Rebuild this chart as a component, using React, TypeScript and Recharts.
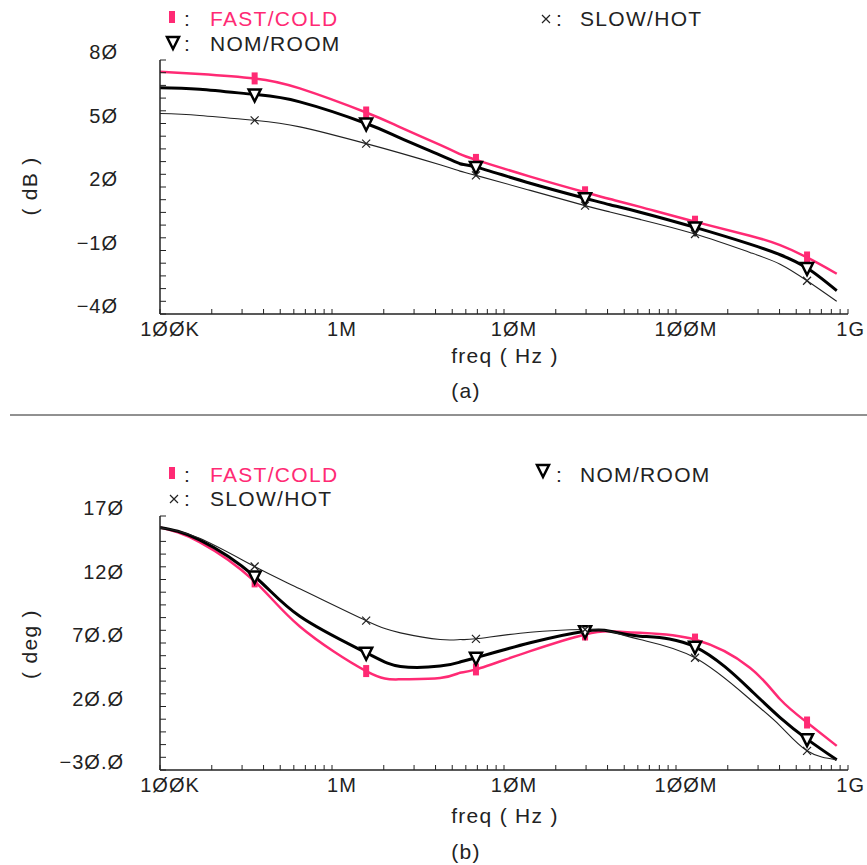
import React from "react";
import { LineChart, Line, XAxis, YAxis } from "recharts";

// frequency points (Hz), shared by both plots
const freqs = [1e5, 1.7e5, 3.55e5, 6.5e5, 1.58e6, 2.5e6, 4.25e6, 5.55e6, 6.87e6, 1.42e7, 2.96e7, 4.13e7, 6.18e7, 1.29e8, 2.69e8, 4.03e8, 5.78e8, 8.6e8];

// (a) gain, dB
const fastGain = [74.5, 73.4, 71.3, 66.6, 55.2, 48.2, 39.9, 35.5, 32.8, 24.9, 17.5, 14.3, 10.6, 3.6, -3.0, -7.5, -13.3, -21];
const nomGain = [66.9, 66.2, 63.7, 60.2, 50.0, 43.1, 35.1, 31.0, 29.4, 21.8, 14.7, 11.6, 8.1, 0.9, -7, -12, -18.3, -29];
const slowGain = [54.7, 53.8, 51.5, 48.4, 40.5, 36, 30.5, 27.5, 25.5, 18.4, 11.2, 8.2, 4.7, -2.2, -10.9, -16.5, -24.3, -34];

// (b) phase, deg
const fastPhase = [161, 149.4, 118.5, 83, 47.9, 41.4, 42.4, 46.6, 49.2, 63.6, 76.7, 79.3, 78, 72.7, 50.5, 25.7, 7.4, -11];
const nomPhase = [161, 151.2, 122.4, 91, 62.3, 51.5, 51.8, 55, 58.4, 70.2, 79.3, 79.3, 75.4, 67, 33.5, 11.3, -5.7, -22];
const slowPhase = [161, 152.5, 130.2, 112.7, 87.6, 78, 72.7, 72.7, 73.3, 78.5, 80.6, 79.3, 72.7, 58.4, 25.7, 4.8, -14.9, -22];

// symbols only sit on these points
const markerFreqs = [3.55e5, 1.58e6, 6.87e6, 2.96e7, 1.29e8, 5.78e8];

const decadeTicks = [1e5, 1e6, 1e7, 1e8, 1e9];
const decadeLabels = ["1ØØK", "1M", "1ØM", "1ØØM", "1G"];
const gainTicks = [80, 50, 20, -10, -40];
const gainLabels = ["8Ø", "5Ø", "2Ø", "−1Ø", "−4Ø"];
const phaseTicks = [170, 120, 70, 20, -30];
const phaseLabels = ["17Ø", "12Ø", "7Ø.Ø", "2Ø.Ø", "−3Ø.Ø"];

const PINK = "#ff2a74";
const INK = "#222";
const FONT = "'Liberation Sans', Arial, sans-serif";
const W = 867;

// log minor ticks 1..9 per decade
const xMinor: number[] = [];
for (let d = 5; d < 9; d++) for (let m = 1; m < 10; m++) xMinor.push(m * Math.pow(10, d));
xMinor.push(1e9);

const yMinor = (lo: number, hi: number, step: number) => {
  const out: number[] = [];
  for (let v = lo; v <= hi; v += step) out.push(v);
  return out;
};

const rows = (a: number[], b: number[], c: number[]) =>
  freqs.map((f, i) => ({ freq: f, fast: a[i], nom: b[i], slow: c[i] }));

const gainRows = rows(fastGain, nomGain, slowGain);
const phaseRows = rows(fastPhase, nomPhase, slowPhase);

const isMark = (p: any) => p && markerFreqs.includes(p.freq);

const FastDot = (p: any) =>
  isMark(p.payload) ? (
    <rect key={p.index} x={p.cx - 3} y={p.cy - 6} width={6} height={12} fill={PINK} />
  ) : (
    <g key={p.index} />
  );

const NomDot = (p: any) =>
  isMark(p.payload) ? (
    <path key={p.index} d={`M${p.cx - 6},${p.cy - 5} L${p.cx + 6},${p.cy - 5} L${p.cx},${p.cy + 7} Z`} fill="#fff" stroke="#000" strokeWidth={2.5} />
  ) : (
    <g key={p.index} />
  );

const SlowDot = (p: any) =>
  isMark(p.payload) ? (
    <path key={p.index} d={`M${p.cx - 4},${p.cy - 4} L${p.cx + 4},${p.cy + 4} M${p.cx - 4},${p.cy + 4} L${p.cx + 4},${p.cy - 4}`} stroke={INK} strokeWidth={1.2} />
  ) : (
    <g key={p.index} />
  );

const makeYTick = (vals: number[], labels: string[], right: number) => (p: any) => {
  const i = vals.indexOf(p.payload.value);
  return (
    <g>
      <line x1={p.x} x2={p.x + 6} y1={p.y} y2={p.y} stroke={INK} />
      {i >= 0 && (
        <text x={p.x - right} y={p.y - 8} textAnchor="end" dominantBaseline="central" fontFamily={FONT} fontSize={20} letterSpacing={1} fill={INK}>
          {labels[i]}
        </text>
      )}
    </g>
  );
};

const XTick = (p: any) => {
  const i = decadeTicks.indexOf(p.payload.value);
  const last = i === decadeTicks.length - 1;
  return (
    <g>
      <line x1={p.x} x2={p.x} y1={p.y} y2={p.y - 5} stroke={INK} />
      {i >= 0 && (
        <text x={last ? p.x + 17 : p.x + 10} y={p.y + 15} textAnchor={last ? "end" : "middle"} dominantBaseline="central" fontFamily={FONT} fontSize={20} letterSpacing={1} fill={INK}>
          {decadeLabels[i]}
        </text>
      )}
    </g>
  );
};

function Plot({ data, domain, minor, tick, top, height, plotTop }: any) {
  return (
    <div style={{ position: "absolute", left: 0, top }}>
      <LineChart width={W} height={height} data={data} margin={{ top: plotTop, right: 19, left: 0, bottom: height - plotTop - 254 - 30 }}>
        <XAxis dataKey="freq" type="number" scale="log" domain={[1e5, 1e9]} ticks={xMinor} interval={0} tickSize={0} tickMargin={0} tickLine={false} tick={XTick} height={30} axisLine={{ stroke: INK, strokeWidth: 1.5 }} allowDataOverflow />
        <YAxis type="number" domain={domain} ticks={minor} interval={0} tickSize={0} tickMargin={0} tickLine={false} tick={tick} width={160} axisLine={{ stroke: INK, strokeWidth: 1.5 }} allowDataOverflow />
        <Line type="natural" dataKey="fast" stroke={PINK} strokeWidth={2.5} dot={FastDot} isAnimationActive={false} />
        <Line type="natural" dataKey="nom" stroke="#000" strokeWidth={3} dot={NomDot} isAnimationActive={false} />
        <Line type="natural" dataKey="slow" stroke={INK} strokeWidth={1.1} dot={SlowDot} isAnimationActive={false} />
      </LineChart>
    </div>
  );
}

const T = (props: any) => <text fontFamily={FONT} fontSize={21} letterSpacing={1.3} fill={INK} {...props} />;

const Tri = ({ x, y }: any) => <path d={`M${x - 6},${y - 5} L${x + 6},${y - 5} L${x},${y + 7} Z`} fill="#fff" stroke="#000" strokeWidth={2.5} />;
const Bar_ = ({ x, y }: any) => <rect x={x - 3} y={y - 6} width={6} height={12} fill={PINK} />;
const Cross = ({ x, y }: any) => <path d={`M${x - 4},${y - 4} L${x + 4},${y + 4} M${x - 4},${y + 4} L${x + 4},${y - 4}`} stroke={INK} strokeWidth={1.2} />;

export default function App() {
  return (
    <div style={{ position: "absolute", left: 0, top: 0, width: W, height: 865, background: "#fff" }}>
      <Plot data={gainRows} domain={[-40, 80]} minor={yMinor(-40, 80, 6)} tick={makeYTick(gainTicks, gainLabels, 42)} top={0} height={420} plotTop={60} />
      <Plot data={phaseRows} domain={[-30, 170]} minor={yMinor(-30, 170, 10)} tick={makeYTick(phaseTicks, phaseLabels, 36)} top={440} height={425} plotTop={76} />
      <svg width={W} height={865} style={{ position: "absolute", left: 0, top: 0, pointerEvents: "none" }}>
        {/* (a) legend */}
        <Bar_ x={172} y={17} />
        <T x={184} y={26}>:</T>
        <T x={210} y={26} fill={PINK}>FAST/COLD</T>
        <Cross x={546} y={19} />
        <T x={556} y={26}>:</T>
        <T x={580} y={26}>SLOW/HOT</T>
        <Tri x={173} y={42} />
        <T x={184} y={51}>:</T>
        <T x={210} y={51}>NOM/ROOM</T>
        <T x={29} y={186} textAnchor="middle" dominantBaseline="central" transform="rotate(-90 29 186)">( dB )</T>
        <T x={505} y={355} textAnchor="middle" dominantBaseline="central">freq ( Hz )</T>
        <T x={466} y={390} textAnchor="middle" dominantBaseline="central">(a)</T>
        <line x1={10} x2={W} y1={415} y2={415} stroke={INK} strokeWidth={1} />
        {/* (b) legend */}
        <Bar_ x={172} y={473} />
        <T x={184} y={482}>:</T>
        <T x={210} y={482} fill={PINK}>FAST/COLD</T>
        <Tri x={543} y={470} />
        <T x={556} y={482}>:</T>
        <T x={580} y={482}>NOM/ROOM</T>
        <Cross x={174} y={499} />
        <T x={184} y={506}>:</T>
        <T x={210} y={506}>SLOW/HOT</T>
        <T x={29} y={644} textAnchor="middle" dominantBaseline="central" transform="rotate(-90 29 644)">( deg )</T>
        <T x={505} y={815} textAnchor="middle" dominantBaseline="central">freq ( Hz )</T>
        <T x={466} y={851} textAnchor="middle" dominantBaseline="central">(b)</T>
      </svg>
    </div>
  );
}
